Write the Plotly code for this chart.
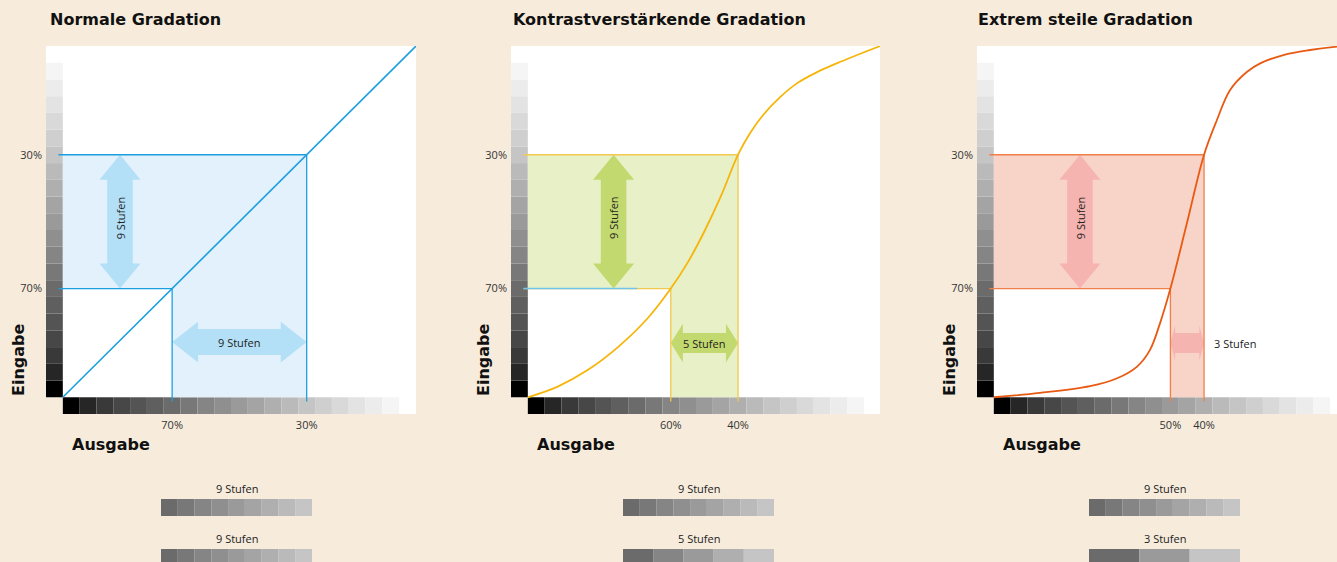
import plotly.graph_objects as go

# ---------------- data ----------------
GRAY_STEPS = ["#000000", "#262626", "#393939", "#474747", "#545454", "#5f5f5f",
              "#6b6b6b", "#787878", "#858585", "#8f8f8f", "#9a9a9a", "#a4a4a4",
              "#afafaf", "#bababa", "#c5c5c5", "#cfcfcf", "#d9d9d9", "#e3e3e3",
              "#ececec", "#f5f5f5"]
STEP_TONES = [100, 95, 90, 85, 80, 75, 70, 65, 60, 55, 50, 45, 40, 35, 30, 25, 20, 15, 10, 5]

TITLES = ["Normale Gradation", "Kontrastverstärkende Gradation", "Extrem steile Gradation"]
INPUT_TONES = [70, 30]                      # Eingabe (y)
OUTPUT_TONES = [[70, 30], [60, 40], [50, 40]]  # Ausgabe (x)
INPUT_STEP_LABEL = "9 Stufen"
OUTPUT_STEP_LABELS = ["9 Stufen", "5 Stufen", "3 Stufen"]
SWATCH_INPUT = [70, 65, 60, 55, 50, 45, 40, 35, 30]
SWATCH_OUTPUT = [[70, 65, 60, 55, 50, 45, 40, 35, 30],
                 [70, 60, 50, 40, 30],
                 [70, 50, 30]]

CURVE1_X = [102.5, -2.5]
CURVE1_Y = [102.5, -2.5]
CURVE2_X = [102.5, 93.6, 84.6, 75.7, 66.8, 60.0, 54.9, 49.8, 45.1, 40.0,
            36.4, 32.6, 27.5, 22.4, 16.5, 10.5, 4.6, -2.3]
CURVE2_Y = [102.5, 99.3, 94.3, 87.5, 78.8, 70.0, 62.1, 52.5, 42.4, 30.0,
            23.5, 18.2, 12.8, 8.6, 5.3, 2.6, 0.2, -2.5]
CURVE3_X = [102.5, 88.8, 73.9, 66.0, 60.0, 56.1, 53.1, 50.0, 45.1, 40.0, 36.2, 32.3,
            27.2, 23.3, 16.4, 8.5, 0.5, -2.5]
CURVE3_Y = [102.5, 101.2, 99.2, 96.9, 93.4, 88.4, 80.4, 70.0, 50.5, 30.0, 19.7, 10.7,
            5.2, 2.7, 0.2, -1.3, -2.3, -2.5]
CURVES_X = [CURVE1_X, CURVE2_X, CURVE3_X]
CURVES_Y = [CURVE1_Y, CURVE2_Y, CURVE3_Y]

# ---------------- style / layout ----------------
W, H = 1337, 562
BEIGE = "#f7ecdc"
FONT_BOLD = "DejaVu Sans"
FONT_TXT = "Open Sans"
THEMES = [
    dict(curve="#1c9fdf", guide="#1c9fdf", fill="#e2f1fb", arrow="#b3e0f7", cw=1.6),
    dict(curve="#f5b50a", guide="#f1c94e", fill="#e8f0c7", arrow="#c2d96f", cw=1.8),
    dict(curve="#e85a12", guide="#f07f48", fill="#f8d3c8", arrow="#f5b4b0", cw=1.8),
]
LEGACY_BLUE = "#6fc4ea"
PANEL_LEFT = [46, 511, 977]
PANEL_RIGHT = [416, 880, 1337]
PANEL_TOP, PANEL_BOTTOM = 46, 414
PX_PER_UNIT = 370 / 110.0
R_MAX, R_MIN = 107.5, -2.5
CHART_EDGE = 102.5
GUIDE_EXT = 103.8
V_ARROW = dict(cx=[85.5, 77.0, 76.9], hw=6.1, sw=3.8, hl=7.5)
H_ARROW = dict(cy=[86.0, 86.3, 86.3], hh=[6.1, 5.8, 5.2], sh=[3.9, 3.0, 3.0], hl=[7.7, 3.6, 1.4])
TITLE_X = [48, 511, 976]
SW_LEFT = [161, 623, 1089]
SW_WIDTH = 151

def px_x(p):
    return p / W

def px_y(p):
    return 1 - p / H

def v_arrow(cx, y0, y1, hw, sw, hl):
    d = 1 if y1 > y0 else -1
    a, b = y0 + d * hl, y1 - d * hl
    xs = [cx, cx + hw, cx + sw, cx + sw, cx + hw, cx, cx - hw, cx - sw, cx - sw, cx - hw, cx]
    ys = [y0, a, a, b, b, y1, b, b, a, a, y0]
    return xs, ys

def h_arrow(cy, x0, x1, hh, sh, hl):
    d = 1 if x1 > x0 else -1
    a, b = x0 + d * hl, x1 - d * hl
    xs = [x0, a, a, b, b, x1, b, b, a, a, x0]
    ys = [cy, cy + hh, cy + sh, cy + sh, cy + hh, cy, cy - hh, cy - sh, cy - sh, cy - hh, cy]
    return xs, ys

def tone_color(t):
    return GRAY_STEPS[STEP_TONES.index(t)]

fig = go.Figure()
shapes, annotations = [], []
layout_axes = {}

for i in range(3):
    n = "" if i == 0 else str(i + 1)
    xa, ya = "x" + n, "y" + n
    th = THEMES[i]
    left, right = PANEL_LEFT[i], PANEL_RIGHT[i]
    x_end = R_MAX - (right - left) / PX_PER_UNIT
    layout_axes["xaxis" + n] = dict(
        domain=[px_x(left), px_x(right)], range=[R_MAX, x_end], anchor=ya,
        showgrid=False, zeroline=False, showline=False, ticks="", ticklabelstandoff=3,
        tickvals=OUTPUT_TONES[i], ticktext=[f"{v}%" for v in OUTPUT_TONES[i]],
        tickfont=dict(family=FONT_TXT, size=11, color="#333333"), fixedrange=True)
    layout_axes["yaxis" + n] = dict(
        domain=[px_y(PANEL_BOTTOM), px_y(PANEL_TOP)], range=[R_MAX, R_MIN], anchor=xa,
        showgrid=False, zeroline=False, showline=False, ticks="", ticklabelstandoff=3,
        tickvals=INPUT_TONES, ticktext=[f"{v}%" for v in INPUT_TONES],
        tickfont=dict(family=FONT_TXT, size=11, color="#333333"), fixedrange=True)

    # white panel + beige corner
    shapes.append(dict(type="rect", xref=xa + " domain", yref=ya + " domain",
                       x0=0, x1=1, y0=0, y1=1, fillcolor="white", line_width=0, layer="below"))
    shapes.append(dict(type="rect", xref=xa, yref=ya, x0=R_MAX, x1=CHART_EDGE,
                       y0=R_MAX, y1=CHART_EDGE, fillcolor=BEIGE, line_width=0, layer="below"))

    # grey scales
    fig.add_trace(go.Bar(x=[5] * len(STEP_TONES), y=STEP_TONES, base=[CHART_EDGE] * len(STEP_TONES),
                         width=[5] * len(STEP_TONES), orientation="h", marker_color=GRAY_STEPS,
                         marker_line_width=0, xaxis=xa, yaxis=ya, hoverinfo="skip", showlegend=False))
    fig.add_trace(go.Bar(x=STEP_TONES, y=[5] * len(STEP_TONES), base=[CHART_EDGE] * len(STEP_TONES),
                         width=[5] * len(STEP_TONES), orientation="v", marker_color=GRAY_STEPS,
                         marker_line_width=0, xaxis=xa, yaxis=ya, hoverinfo="skip", showlegend=False))

    in_hi, in_lo = INPUT_TONES
    out_hi, out_lo = OUTPUT_TONES[i]
    # L-shaped fill
    fig.add_trace(go.Scatter(
        x=[CHART_EDGE, out_lo, out_lo, out_hi, out_hi, CHART_EDGE, CHART_EDGE],
        y=[in_lo, in_lo, CHART_EDGE, CHART_EDGE, in_hi, in_hi, in_lo],
        fill="toself", fillcolor=th["fill"], line=dict(width=0, color=th["fill"]),
        mode="lines", xaxis=xa, yaxis=ya, hoverinfo="skip", showlegend=False))

    # arrows
    vx, vy = v_arrow(V_ARROW["cx"][i], in_lo, in_hi, V_ARROW["hw"], V_ARROW["sw"], V_ARROW["hl"])
    fig.add_trace(go.Scatter(x=vx, y=vy, fill="toself", fillcolor=th["arrow"],
                             line=dict(width=0, color=th["arrow"]), mode="lines",
                             xaxis=xa, yaxis=ya, hoverinfo="skip", showlegend=False))
    hx, hy = h_arrow(H_ARROW["cy"][i], out_hi, out_lo, H_ARROW["hh"][i], H_ARROW["sh"][i], H_ARROW["hl"][i])
    fig.add_trace(go.Scatter(x=hx, y=hy, fill="toself", fillcolor=th["arrow"],
                             line=dict(width=0, color=th["arrow"]), mode="lines",
                             xaxis=xa, yaxis=ya, hoverinfo="skip", showlegend=False))

    # guide lines
    guides = [([GUIDE_EXT, out_lo], [in_lo, in_lo]),
              ([GUIDE_EXT, out_hi], [in_hi, in_hi]),
              ([out_hi, out_hi], [in_hi, GUIDE_EXT]),
              ([out_lo, out_lo], [in_lo, GUIDE_EXT])]
    for gx, gy in guides:
        fig.add_trace(go.Scatter(x=gx, y=gy, mode="lines", line=dict(color=th["guide"], width=1.3),
                                 xaxis=xa, yaxis=ya, hoverinfo="skip", showlegend=False))
    if i == 1:
        fig.add_trace(go.Scatter(x=[GUIDE_EXT, OUTPUT_TONES[0][0]], y=[in_hi, in_hi], mode="lines",
                                 line=dict(color=LEGACY_BLUE, width=1.4),
                                 xaxis=xa, yaxis=ya, hoverinfo="skip", showlegend=False))

    # curve
    fig.add_trace(go.Scatter(x=CURVES_X[i], y=CURVES_Y[i], mode="lines",
                             line=dict(color=th["curve"], width=th["cw"], shape="spline", smoothing=1.0),
                             xaxis=xa, yaxis=ya, hoverinfo="skip", showlegend=False))

    # arrow labels
    annotations.append(dict(xref=xa, yref=ya, x=V_ARROW["cx"][i], y=(in_hi + in_lo) / 2 - 1,
                            text=INPUT_STEP_LABEL, textangle=-90, showarrow=False,
                            font=dict(family=FONT_TXT, size=11, color="#222222")))
    if i < 2:
        annotations.append(dict(xref=xa, yref=ya, x=(out_hi + out_lo) / 2, y=H_ARROW["cy"][i],
                                text=OUTPUT_STEP_LABELS[i], showarrow=False,
                                font=dict(family=FONT_TXT, size=11, color="#222222")))
    else:
        annotations.append(dict(xref=xa, yref=ya, x=out_lo - 2.4, y=H_ARROW["cy"][i], xanchor="left",
                                text=OUTPUT_STEP_LABELS[i], showarrow=False,
                                font=dict(family=FONT_TXT, size=11, color="#222222")))

    # titles
    annotations.append(dict(xref="paper", yref="paper", x=px_x(TITLE_X[i]), y=px_y(19),
                            xanchor="left", yanchor="middle", text=f"<b>{TITLES[i]}</b>",
                            showarrow=False, font=dict(family=FONT_BOLD, size=16, color="#111111")))
    annotations.append(dict(xref="paper", yref="paper", x=px_x(left - 28), y=px_y(360),
                            xanchor="center", yanchor="middle", text="<b>Eingabe</b>", textangle=-90,
                            showarrow=False, font=dict(family=FONT_BOLD, size=16, color="#111111")))
    annotations.append(dict(xref="paper", yref="paper", x=px_x(left + 24), y=px_y(445),
                            xanchor="left", yanchor="middle", text="<b>Ausgabe</b>",
                            showarrow=False, font=dict(family=FONT_BOLD, size=16, color="#111111")))

    # swatch strips
    m = str(i + 4)
    sx, sy = "x" + m, "y" + m
    layout_axes["xaxis" + m] = dict(domain=[px_x(SW_LEFT[i]), px_x(SW_LEFT[i] + SW_WIDTH)],
                                    range=[0, 1], anchor=sy, visible=False, fixedrange=True)
    layout_axes["yaxis" + m] = dict(domain=[0, px_y(470)], range=[1.09, -0.75], anchor=sx,
                                    visible=False, fixedrange=True)
    rows = [(SWATCH_INPUT, INPUT_STEP_LABEL), (SWATCH_OUTPUT[i], OUTPUT_STEP_LABELS[i])]
    for r, (tones, label) in enumerate(rows):
        k = len(tones)
        fig.add_trace(go.Bar(x=[1.0 / k] * k, base=[j / k for j in range(k)], y=[r] * k,
                             width=[0.34] * k, orientation="h",
                             marker_color=[tone_color(t) for t in tones], marker_line_width=0,
                             xaxis=sx, yaxis=sy, hoverinfo="skip", showlegend=False))
        annotations.append(dict(xref=sx, yref=sy, x=0.5, y=r - 0.39, text=label, showarrow=False,
                                font=dict(family=FONT_TXT, size=11, color="#222222")))

fig.update_layout(
    width=W, height=H, margin=dict(l=0, r=0, t=0, b=0),
    paper_bgcolor=BEIGE, plot_bgcolor="rgba(0,0,0,0)",
    barmode="overlay", showlegend=False,
    shapes=shapes, annotations=annotations, **layout_axes)

fig.write_html("out.html", config={"displayModeBar": False},
               post_script="document.body.style.margin='0';")
